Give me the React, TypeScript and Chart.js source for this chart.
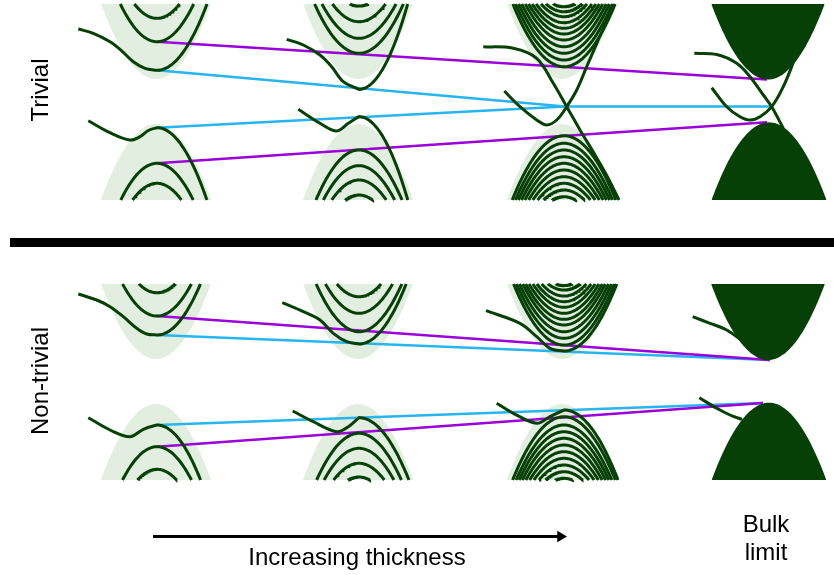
import React, { useEffect, useRef } from 'react';
import { Chart, registerables } from 'chart.js';

Chart.register(...registerables);

// ---------------------------------------------------------------------------
// Schematic data (momentum k across, energy E downward, arbitrary units)
// ---------------------------------------------------------------------------

// momentum origin of each thickness panel (three films + bulk)
const panelK = [157, 359, 564, 768];
const shadeK = [156, 358, 562];

// energy windows of the two halves
const trivialWindow = [4, 200];
const nonTrivialWindow = [284, 480];

// ---- Trivial half ----------------------------------------------------------
const trivialCondBulk = [
  [41.7, 18.3],
  [53.3, 38.3, 21.7, 6],
  [66.7, 60, 53.3, 46.7, 40, 34, 28.3, 22.7, 16.7, 11.7, 6.7],
];
const trivialValBulk = [
  [163.3, 183.3],
  [150, 165.7, 180, 195],
  [135.7, 143.3, 150, 156.7, 163.3, 170, 176.7, 183.3, 190, 196.7],
];
const trivialCondMass = [0.028, 0.025, 0.024];
const trivialValMass = [0.028, 0.027, 0.024];

// lowest conduction / highest valence subband with surface-like shoulder
const trivialCondSurfLeft = [
  [[78.3, 29], [93.3, 33.3], [110, 41.7], [120, 49.3], [133.3, 61.7], [145, 68.3]],
  [[286.7, 39.3], [303.3, 45], [320, 55], [331.7, 66.7], [343.3, 81.7]],
];
const trivialCondSurfEdge = [70.3, 89.3];
const trivialCondSurfMass = [0.0265, 0.036];

const trivialValSurfLeft = [
  [[88.3, 120.7], [110, 132.7], [130, 140], [140, 136.7], [148.3, 130.5]],
  [[298.3, 109.3], [320, 123.3], [336.7, 131], [348.3, 123.3]],
];
const trivialValSurfEdge = [127.7, 116.7];
const trivialValSurfMass = [0.029, 0.035];

// crossing surface states of the thickest film
const trivialCrossA3 = [[483.3, 46.7], [513.3, 48.3], [536.7, 58.3], [553.3, 83.3], [566.7, 106.7], [580, 130], [595, 155], [607, 176], [619, 200]];
const trivialCrossB3 = [[504.3, 91], [520, 106.7], [536.7, 120], [546.7, 125], [556.7, 120], [566.7, 106.7], [576.7, 90], [586.7, 66.7], [600, 36], [614, 4]];
// crossing surface states of the bulk limit
const trivialCrossA4 = [[694.3, 53.3], [716.7, 54.5], [736.7, 63.3], [750, 76.7], [763.3, 95], [771.7, 106.7], [783.3, 128.3]];
const trivialCrossB4 = [[711.7, 87.7], [726.7, 106.7], [740, 116.7], [750, 120], [760, 116.7], [771.7, 106.7], [783.3, 86.7], [795, 58.3]];

const trivialShadeCond = 79;
const trivialShadeVal = 124;
const trivialBulkCond = 79.5;
const trivialBulkVal = 122.3;

const trivialPurple = [
  [[157, 41.7], [767, 79.5]],
  [[157, 163.3], [767, 122.3]],
];
const trivialCyan = [
  [[157, 70.3], [565, 106.5], [771, 106.5]],
  [[157, 127.7], [565, 106.5]],
];

// ---- Non-trivial half ------------------------------------------------------
const nonTrivCondBulk = [
  [316, 292.7],
  [331.7, 313.3, 296.7],
  [345, 338.3, 331.7, 325, 319.3, 313.3, 307.3, 301.7, 296, 290, 285.5],
];
const nonTrivValBulk = [
  [446.7, 469.3],
  [433.3, 448.3, 463.3, 477],
  [416.7, 425, 431.7, 438.3, 445, 451.7, 458.3, 465, 471.7, 478.3],
];
const nonTrivCondMass = [0.027, 0.026, 0.024];
const nonTrivValMass = [0.028, 0.026, 0.024];

const nonTrivCondSurfLeft = [
  [[78.3, 294], [96.7, 300], [110, 306.7], [123.3, 316.7], [136.7, 328.3], [146.7, 334]],
  [[282.3, 302.7], [303.3, 311.7], [320, 320], [333.3, 333.3], [346.7, 341.7]],
  [[486, 310.7], [520, 323.3], [536.7, 336.7], [550, 348.3]],
];
const nonTrivCondSurfEdge = [335, 344, 351];
const nonTrivCondSurfMass = [0.027, 0.027, 0.024];

const nonTrivValSurfLeft = [
  [[88.3, 417.7], [110, 430], [130, 436.7], [143.3, 429.3]],
  [[292.7, 411], [313.3, 421.7], [336.7, 431.7], [348.3, 426.7]],
  [[496.7, 403.3], [513.3, 413.3], [536.7, 423.3], [550, 416.7]],
];
const nonTrivValSurfEdge = [425, 417.7, 410];
const nonTrivValSurfMass = [0.029, 0.025, 0.024];

const nonTrivBulkSurfCond = [[692.7, 316.7], [710, 323.3], [726.7, 330], [742, 340.5]];
const nonTrivBulkSurfVal = [[699.3, 397.7], [716.7, 408.3], [730, 415], [742, 419.5]];

const nonTrivShadeCond = 359;
const nonTrivShadeVal = 404;
const nonTrivBulkCond = 360;
const nonTrivBulkVal = 402.7;

const nonTrivPurple = [
  [[157, 316], [770, 360]],
  [[157, 446.7], [763, 403]],
];
const nonTrivCyan = [
  [[157, 335], [770, 360]],
  [[157, 425], [763, 403]],
];

const shadeMass = 0.025;
const bulkMass = 0.0235;

// ---- annotations -----------------------------------------------------------
const separator = [[10, 242.5], [834, 242.5]];
const thicknessArrow = [[153, 536.5], [559, 536.5]];
const arrowTip = [[560.5, 536.5]];
const bottomLabels = ['Increasing thickness', 'Bulk', 'limit'];
const bottomLabelK = [357, 766, 766];
const bottomLabelE = [565, 532, 560];
const sideLabels = ['Trivial', 'Non-trivial'];
const sideLabelK = [41, 41];
const sideLabelE = [90, 381];

// ---------------------------------------------------------------------------
const GREEN = '#064006';
const SHADE = 'rgb(226,239,224)';
const PURPLE = '#9b00d9';
const CYAN = '#27b4ef';

type P = { x: number; y: number };
const toPts = (arr: number[][]): P[] => arr.map(([x, y]) => ({ x, y }));

function parabola(k0: number, e0: number, m: number, limit: number, from = -1, to = 1, n = 60): P[] {
  const hw = Math.sqrt(Math.abs(limit - e0) / m);
  const s = limit < e0 ? -1 : 1;
  const out: P[] = [];
  for (let i = 0; i <= n; i++) {
    const dk = hw * (from + ((to - from) * i) / n);
    out.push({ x: k0 + dk, y: e0 + s * m * dk * dk });
  }
  return out;
}

function bandDs(data: P[], tension = 0, color = GREEN, width = 3, order = 1) {
  return {
    data,
    borderColor: color,
    borderWidth: width,
    backgroundColor: color,
    pointRadius: 0,
    fill: false,
    tension,
    borderCapStyle: 'butt',
    order,
  };
}

function fillDs(data: P[], limit: number, color: string, order: number) {
  return {
    data,
    borderColor: color,
    borderWidth: 0,
    backgroundColor: color,
    pointRadius: 0,
    fill: { value: limit },
    tension: 0,
    order,
  };
}

function buildDatasets() {
  const ds: any[] = [];
  const halves = [
    {
      win: trivialWindow, condBulk: trivialCondBulk, valBulk: trivialValBulk,
      condMass: trivialCondMass, valMass: trivialValMass,
      condSurfLeft: trivialCondSurfLeft, condSurfEdge: trivialCondSurfEdge, condSurfMass: trivialCondSurfMass,
      valSurfLeft: trivialValSurfLeft, valSurfEdge: trivialValSurfEdge, valSurfMass: trivialValSurfMass,
      shadeCond: trivialShadeCond, shadeVal: trivialShadeVal, bulkCond: trivialBulkCond, bulkVal: trivialBulkVal,
      purple: trivialPurple, cyan: trivialCyan,
    },
    {
      win: nonTrivialWindow, condBulk: nonTrivCondBulk, valBulk: nonTrivValBulk,
      condMass: nonTrivCondMass, valMass: nonTrivValMass,
      condSurfLeft: nonTrivCondSurfLeft, condSurfEdge: nonTrivCondSurfEdge, condSurfMass: nonTrivCondSurfMass,
      valSurfLeft: nonTrivValSurfLeft, valSurfEdge: nonTrivValSurfEdge, valSurfMass: nonTrivValSurfMass,
      shadeCond: nonTrivShadeCond, shadeVal: nonTrivShadeVal, bulkCond: nonTrivBulkCond, bulkVal: nonTrivBulkVal,
      purple: nonTrivPurple, cyan: nonTrivCyan,
    },
  ];

  for (const h of halves) {
    const [top, bottom] = h.win;
    // light envelopes of the film subbands
    for (let i = 0; i < 3; i++) {
      ds.push(fillDs(parabola(shadeK[i], h.shadeCond, shadeMass, top), top, SHADE, 9));
      ds.push(fillDs(parabola(shadeK[i], h.shadeVal, shadeMass, bottom), bottom, SHADE, 9));
    }
    // bulk continuum
    ds.push(fillDs(parabola(panelK[3], h.bulkCond, bulkMass, top), top, GREEN, 2));
    ds.push(fillDs(parabola(panelK[3] + 1, h.bulkVal, bulkMass, bottom), bottom, GREEN, 2));
    // guide lines
    for (const l of h.purple) ds.push(bandDs(toPts(l), 0, PURPLE, 2.5, 5));
    for (const l of h.cyan) ds.push(bandDs(toPts(l), 0, CYAN, 2.5, 5));
    // film subbands
    for (let i = 0; i < 3; i++) {
      for (const e of h.condBulk[i]) ds.push(bandDs(parabola(panelK[i], e, h.condMass[i], top)));
      for (const e of h.valBulk[i]) ds.push(bandDs(parabola(panelK[i], e, h.valMass[i], bottom)));
    }
    for (let i = 0; i < h.condSurfLeft.length; i++) {
      const right = parabola(panelK[i], h.condSurfEdge[i], h.condSurfMass[i], top, 0, 1, 30);
      ds.push(bandDs([...toPts(h.condSurfLeft[i]), ...right], 0.35));
    }
    for (let i = 0; i < h.valSurfLeft.length; i++) {
      const right = parabola(panelK[i], h.valSurfEdge[i], h.valSurfMass[i], bottom, 0, 1, 30);
      ds.push(bandDs([...toPts(h.valSurfLeft[i]), ...right], 0.35));
    }
  }
  // crossing surface states
  ds.push(bandDs(toPts(trivialCrossA3), 0.35));
  ds.push(bandDs(toPts(trivialCrossB3), 0.35));
  ds.push(bandDs(toPts(trivialCrossA4), 0.35));
  ds.push(bandDs(toPts(trivialCrossB4), 0.35));
  ds.push(bandDs(toPts(nonTrivBulkSurfCond), 0.35));
  ds.push(bandDs(toPts(nonTrivBulkSurfVal), 0.35));

  // separator and thickness arrow
  ds.push(bandDs(toPts(separator), 0, '#000', 9, 0));
  ds.push(bandDs(toPts(thicknessArrow), 0, '#000', 3, 0));
  ds.push({
    data: toPts(arrowTip),
    showLine: false,
    pointStyle: 'triangle',
    pointRadius: 6.5,
    pointRotation: 90,
    pointBackgroundColor: '#000',
    pointBorderColor: '#000',
    pointBorderWidth: 0,
    order: 0,
  });
  return ds;
}

const labelPlugin = {
  id: 'schematicLabels',
  afterDraw(chart: any) {
    const { ctx } = chart;
    const xs = chart.scales.x;
    const ys = chart.scales.y;
    ctx.save();
    ctx.fillStyle = '#000';
    ctx.font = '24px "Liberation Sans", Arial, sans-serif';
    ctx.textAlign = 'center';
    ctx.textBaseline = 'alphabetic';
    bottomLabels.forEach((t, i) => {
      ctx.fillText(t, xs.getPixelForValue(bottomLabelK[i]), ys.getPixelForValue(bottomLabelE[i]));
    });
    sideLabels.forEach((t, i) => {
      ctx.save();
      ctx.translate(xs.getPixelForValue(sideLabelK[i]), ys.getPixelForValue(sideLabelE[i]));
      ctx.rotate(-Math.PI / 2);
      ctx.textBaseline = 'middle';
      ctx.fillText(t, 0, 0);
      ctx.restore();
    });
    ctx.restore();
  },
};

export default function App() {
  const ref = useRef<HTMLCanvasElement | null>(null);
  useEffect(() => {
    if (!ref.current) return;
    const chart = new Chart(ref.current, {
      type: 'line',
      data: { datasets: buildDatasets() as any },
      options: {
        animation: false,
        responsive: false,
        devicePixelRatio: 1,
        layout: { padding: 0, autoPadding: false },
        parsing: true,
        scales: {
          x: { type: 'linear', min: 0, max: 834, display: false },
          y: { type: 'linear', min: 0, max: 575, reverse: true, display: false },
        },
        plugins: {
          legend: { display: false },
          tooltip: { enabled: false },
        },
        events: [],
      } as any,
      plugins: [labelPlugin],
    });
    return () => chart.destroy();
  }, []);
  return (
    <div style={{ position: 'absolute', left: 0, top: 0, width: 834, height: 575, background: '#fff' }}>
      <canvas ref={ref} width={834} height={575} style={{ display: 'block' }} />
    </div>
  );
}
